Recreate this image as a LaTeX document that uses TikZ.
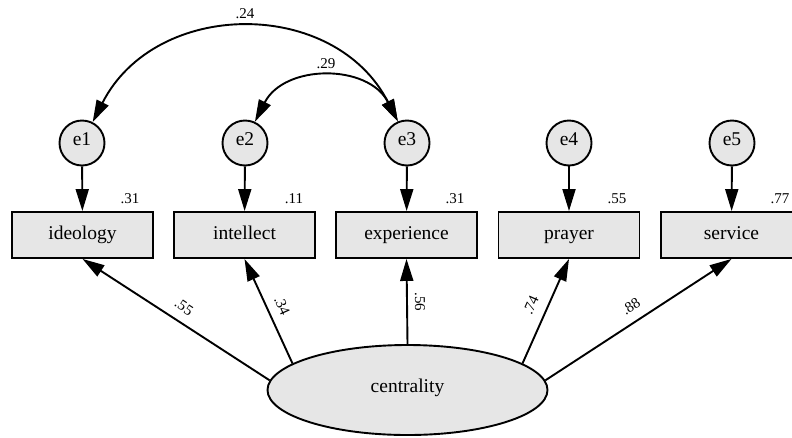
\documentclass[tikz,border=0pt]{standalone}
\usepackage{fontspec}
\setmainfont{Liberation Serif}
\usetikzlibrary{shapes.geometric,arrows.meta}
\definecolor{boxfill}{HTML}{E6E6E6}
\tikzset{
  tip/.tip={Triangle[length=22pt,width=13pt]},
  conn/.style={line width=1.9pt,-tip},
  cov/.style={line width=1.9pt,tip-tip},
  mainfont/.style={font=\fontsize{19.5}{21}\selectfont},
  errc/.style={circle,draw,line width=1.9pt,fill=boxfill,minimum size=45pt,inner sep=0pt,mainfont,text height=0.69em,text depth=0.23em},
  obsbox/.style={rectangle,draw,line width=1.9pt,fill=boxfill,minimum width=141pt,minimum height=46pt,inner sep=0pt,mainfont,text height=1.15em,text depth=0.23em},
  latent/.style={ellipse,draw,line width=1.9pt,fill=boxfill,minimum width=280pt,minimum height=90pt,inner sep=0pt,mainfont,text height=0.72em,text depth=0.22em},
  lbl/.style={inner sep=0pt,font=\fontsize{15}{17}\selectfont}
}
\begin{document}
\begin{tikzpicture}[x=1pt,y=1pt]
\useasboundingbox (0,0) rectangle (792,-437);
\clip (0,0) rectangle (792,-437);
% error terms
\node[errc] (e1) at (82,-143) {e1};
\node[errc] (e2) at (245,-143) {e2};
\node[errc] (e3) at (407,-143) {e3};
\node[errc] (e4) at (569,-143) {e4};
\node[errc] (e5) at (732,-143) {e5};
% observed
\node[obsbox] (ideo) at (82.5,-235) {ideology};
\node[obsbox] (intel) at (244.5,-235) {intellect};
\node[obsbox] (exper) at (406.5,-235) {experience};
\node[obsbox] (pray) at (569,-235) {prayer};
\node[obsbox] (serv) at (731.5,-235) {service};
% latent
\node[latent] (c) at (407.5,-390) {centrality};
% error arrows
\draw[conn] (e1) -- (ideo);
\draw[conn] (e2) -- (intel);
\draw[conn] (e3) -- (exper);
\draw[conn] (e4) -- (pray);
\draw[conn] (e5) -- (serv);
% loadings
\draw[conn] (c.176.3) -- (ideo.south);
\draw[conn] (c.167) -- (intel.south);
\draw[conn] (c.90) -- (exper.south);
\draw[conn] (c.13.3) -- (pray.south);
\draw[conn] (c.4.1) -- (serv.south);
% covariances
\draw[cov] (e1.63) to[out=63,in=117,distance=139pt] (e3.113);
\draw[cov] (e2.65) to[out=63,in=117,distance=65pt] (e3.113);
% labels
\node[lbl] (l24) at (245,-14) {.24};
\node[lbl] (l29) at (326,-64) {.29};
\node[lbl] (r1) at (130,-199) {.31};
\node[lbl] (r2) at (294,-199) {.11};
\node[lbl] (r3) at (455,-199) {.31};
\node[lbl] (r4) at (617,-199) {.55};
\node[lbl] (r5) at (780,-199) {.77};
\node[lbl,rotate=-33.5] (b1) at (184,-307) {.55};
\node[lbl,rotate=-66] (b2) at (282,-306) {.34};
\node[lbl,rotate=-90] (b3) at (420,-302) {.56};
\node[lbl,rotate=66] (b4) at (531,-305) {.74};
\node[lbl,rotate=33] (b5) at (631,-306) {.88};
\end{tikzpicture}
\end{document}
